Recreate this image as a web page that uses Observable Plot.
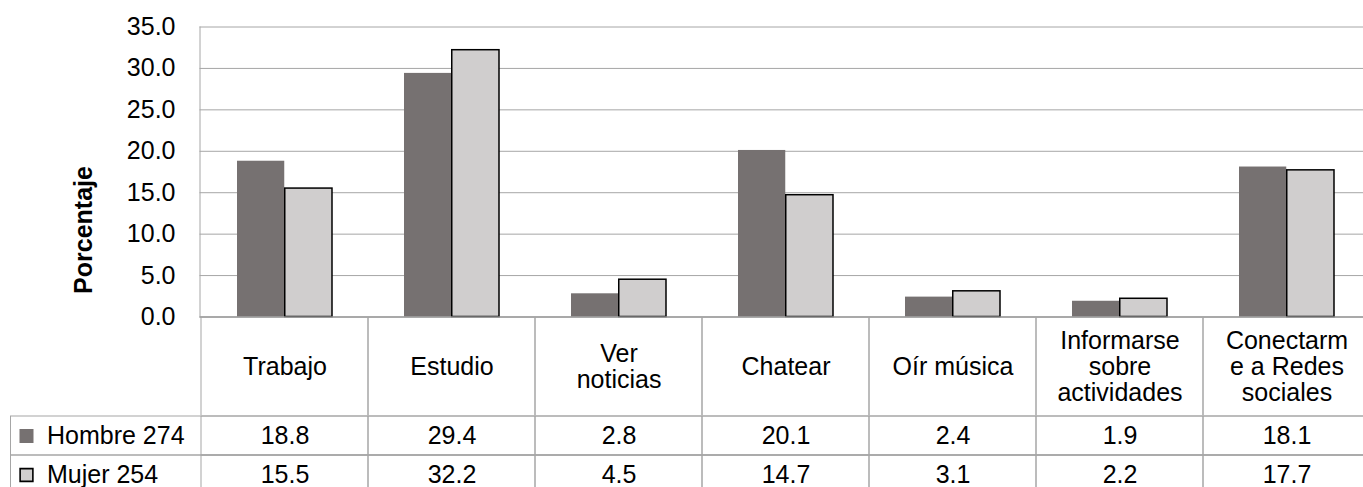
<!DOCTYPE html>
<html>
<head>
<meta charset="utf-8">
<script src="https://cdn.jsdelivr.net/npm/d3@7"></script>
<script src="https://cdn.jsdelivr.net/npm/@observablehq/plot@0.6"></script>
<style>
  body { margin: 0; background: #fff; }
  #chart { position: relative; width: 1363px; height: 487px; overflow: hidden; background: #fff; }
  #chart svg { display: block; position: absolute; left: 0; }
  #chart svg, #chart svg text { font-family: "Liberation Sans", Arial, Helvetica, sans-serif !important; }
</style>
</head>
<body>
<div id="chart"></div>
<script>
// Uses of the internet, by sex (percent)
const categories = ["Trabajo", "Estudio", "Ver noticias", "Chatear", "Oír música", "Informarse sobre actividades", "Conectarme a Redes sociales"];
const categoryLabels = ["Trabajo", "Estudio", "Ver\nnoticias", "Chatear", "Oír música", "Informarse\nsobre\nactividades", "Conectarm\ne a Redes\nsociales"];
const series = ["Hombre 274", "Mujer 254"];
const hombre = [18.8, 29.4, 2.8, 20.1, 2.4, 1.9, 18.1];
const mujer = [15.5, 32.2, 4.5, 14.7, 3.1, 2.2, 17.7];
const yTicks = [0, 5, 10, 15, 20, 25, 30, 35];
const yLabel = "Porcentaje";

// Long-format table built from the arrays above
const table = [
  ...categories.map((c, i) => ({category: c, series: series[0], value: hombre[i]})),
  ...categories.map((c, i) => ({category: c, series: series[1], value: mujer[i]}))
];

const W = 1363;
const FONT = "Liberation Sans, Arial, Helvetica, sans-serif";
const GRID = "#a6a6a6";
const xRange = [199.5, 1372];
const step = (xRange[1] - xRange[0]) / categories.length;
const colors = {domain: series, range: ["#767171", "#d0cece"]};
const fmt = d3.format(".1f");

// position of each series' bar inside a category column
const sub = d3.scaleBand().domain(series).range([0, step]).paddingInner(0).paddingOuter(0.754);
const insets = s => ({insetLeft: sub(s), insetRight: step - sub(s) - sub.bandwidth()});

const style = {fontFamily: FONT, fontSize: "25px", color: "#000", background: "none", overflow: "visible"};
const textOpts = {fontSize: 25, fontFamily: FONT, fill: "#000"};

// Bars, grid and value axis
const chart = Plot.plot({
  width: W, height: 317,
  marginTop: 26.5, marginBottom: 0.5, marginLeft: 199.5, marginRight: 0,
  style,
  x: {type: "band", domain: categories, range: xRange, padding: 0, axis: null},
  y: {domain: [0, 35], range: [316.5, 26.5]},
  color: colors,
  marks: [
    Plot.gridY(yTicks.filter(t => t > 0), {stroke: GRID, strokeOpacity: 1}),
    Plot.barY(table.filter(d => d.series === series[0]), {
      x: "category", y: "value", fill: "series", ...insets(series[0])
    }),
    Plot.barY(table.filter(d => d.series === series[1]), {
      x: "category", y: "value", fill: "series", stroke: "#000", strokeWidth: 1.5, ...insets(series[1])
    }),
    Plot.ruleY([0], {stroke: "#8c8c8c", strokeWidth: 1.5}),
    Plot.frame({anchor: "left", stroke: GRID}),
    Plot.axisY(yTicks, {tickSize: 0, tickPadding: 24.5, tickFormat: fmt, ...textOpts, label: null}),
    Plot.text([yLabel], {
      frameAnchor: "left", textAnchor: "middle", dx: -116.5, dy: 58, rotate: -90,
      fontWeight: "bold", ...textOpts
    })
  ]
});

// Header row of the data table: one cell per category (vertical borders only; the
// horizontal edges are pushed outside the clipped svg)
const header = Plot.plot({
  width: W, height: 98,
  marginTop: 0, marginBottom: 0, marginLeft: 199.5, marginRight: -10,
  style: {...style, overflow: "hidden"},
  x: {type: "band", domain: categories, range: xRange, padding: 0, axis: null},
  marks: [
    Plot.cell(categories, {x: d => d, stroke: GRID, fill: "none", insetTop: -3, insetBottom: -3}),
    Plot.text(categories, {
      x: d => d, text: (d, i) => categoryLabels[i],
      frameAnchor: "middle", lineAnchor: "middle", lineHeight: 1.05, ...textOpts
    })
  ]
});

// Value rows of the data table with legend keys
const rows = Plot.plot({
  width: W, height: 72,
  marginTop: 0, marginBottom: 0, marginLeft: 10.5, marginRight: -20,
  style,
  x: {type: "band", domain: categories, range: xRange, padding: 0, axis: null},
  y: {type: "band", domain: series, range: [0.5, 78.5], padding: 0, axis: null},
  color: colors,
  marks: [
    Plot.cell(series, {y: d => d, stroke: GRID, fill: "none"}),
    Plot.cell(table, {x: "category", y: "series", stroke: GRID, fill: "none"}),
    Plot.text(table, {x: "category", y: "series", text: d => fmt(d.value), ...textOpts}),
    Plot.dot([series[0]], {y: d => d, frameAnchor: "left", dx: 15.5, symbol: "square", r: 7.9, fill: d => d}),
    Plot.dot([series[1]], {y: d => d, frameAnchor: "left", dx: 15.5, symbol: "square", r: 7.2, fill: d => d, stroke: "#000", strokeWidth: 1.6}),
    Plot.text(series, {y: d => d, frameAnchor: "left", dx: 36, textAnchor: "start", text: d => d, ...textOpts})
  ]
});

const root = document.getElementById("chart");
chart.style.top = "0px";
header.style.top = "317px";
rows.style.top = "415px";
root.append(chart, header, rows);
</script>
</body>
</html>
